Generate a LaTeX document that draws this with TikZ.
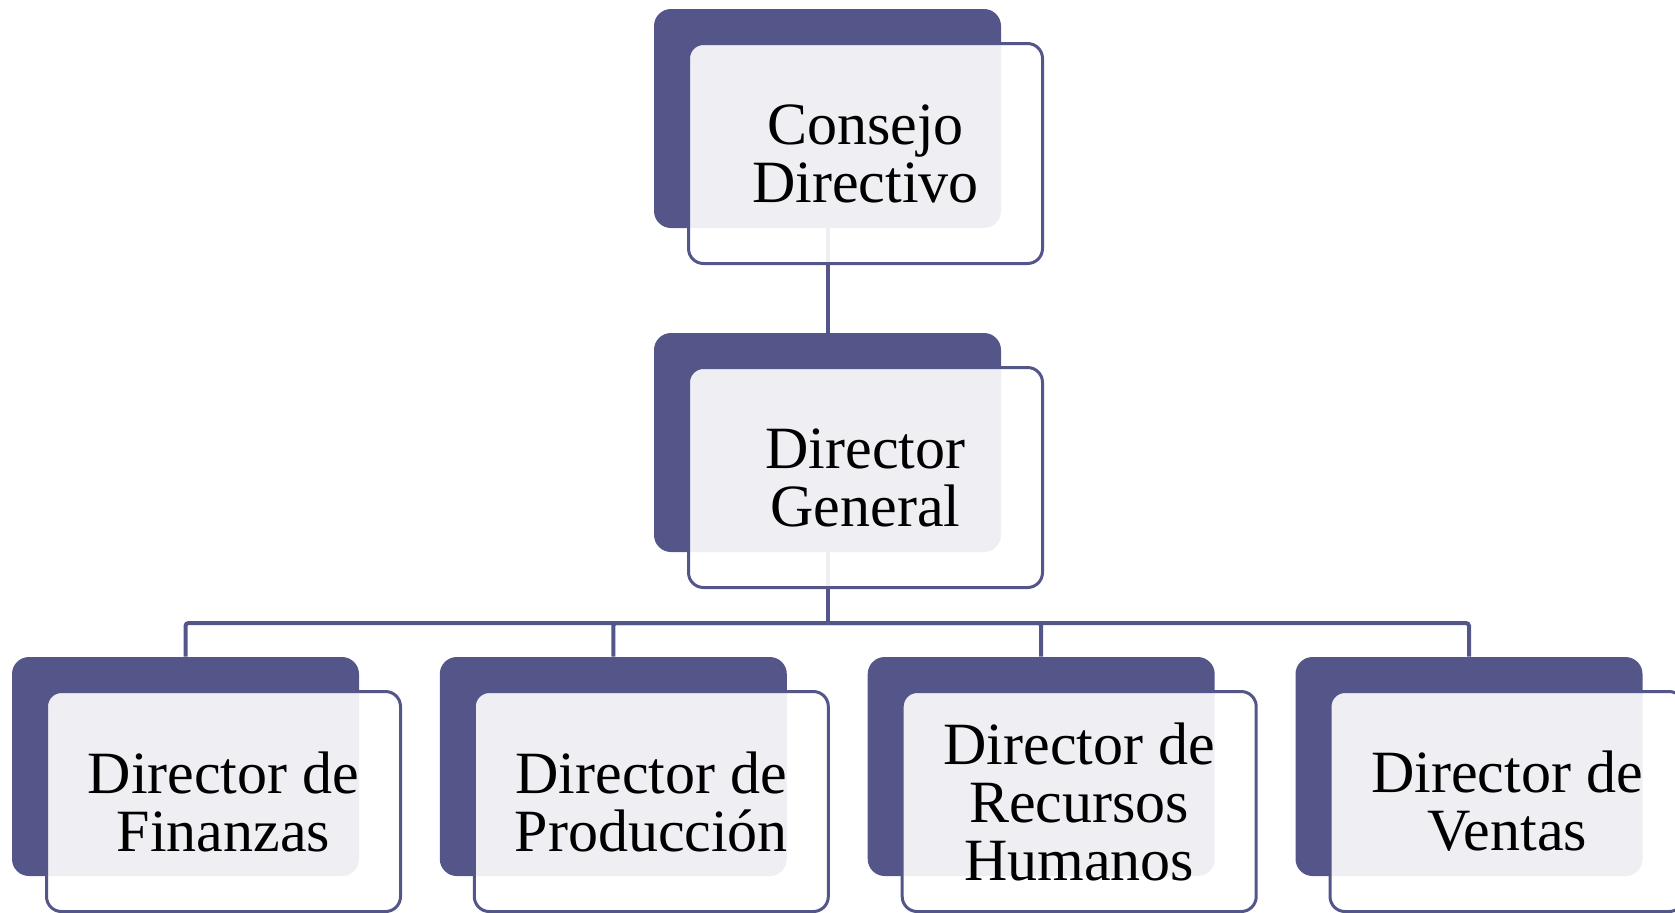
\documentclass[tikz,border=0pt]{standalone}
\usepackage{fontspec}
\setmainfont{Liberation Serif}
\usetikzlibrary{positioning, calc}
\definecolor{jefe}{RGB}{84,86,138}
\newcommand\ox{38}
\newcommand\oy{35}

\begin{document}
\begin{tikzpicture}[x=0.5pt, y=-0.5pt,
  fondo/.style={rectangle, rounded corners=8.5pt, fill=jefe, inner sep=0pt,
    minimum width=173.5pt, minimum height=109.5pt},
  cargo/.style={rectangle, rounded corners=7.5pt, draw=jefe, line width=1.5pt,
    fill=white, fill opacity=0.9, text opacity=1, align=center, inner sep=0pt,
    minimum width=177pt, minimum height=110pt,
    font=\fontsize{30}{29}\selectfont},
  enlace/.style={draw=jefe, line width=2pt, rounded corners=1.5pt}]

\useasboundingbox (0,0) rectangle (1675,912);

% cajas de fondo
\node[fondo] (cd-f) at (827.5,118.5) {};
\node[fondo] (dg-f) at (827.5,442.5) {};
\foreach \n/\x in {fin/185.5, pro/613.3, rh/1041.2, ven/1469}
  \node[fondo] (\n-f) at (\x,766.5) {};

% lineas
\coordinate (barra) at (827.5,623);
\draw[enlace] (cd-f.south) -- (dg-f.north);
\draw[enlace] (dg-f.south) -- (barra);
\foreach \n in {fin, pro, rh, ven}
  \draw[enlace] (barra) -| (\n-f.north);

% cajas de cargo
\node[cargo] (cd)  at ($(cd-f)+(\ox,\oy)$)  {Consejo\\Directivo};
\node[cargo] (dg)  at ($(dg-f)+(\ox,\oy)$)  {Director\\General};
\node[cargo] (fin) at ($(fin-f)+(\ox,\oy)$) {Director de\\Finanzas};
\node[cargo] (pro) at ($(pro-f)+(\ox,\oy)$) {Director de\\Producción};
\node[cargo] (rh)  at ($(rh-f)+(\ox,\oy)$)  {Director de\\Recursos\\Humanos};
\node[cargo] (ven) at ($(ven-f)+(\ox,\oy)$) {Director de\\Ventas};

\end{tikzpicture}
\end{document}
